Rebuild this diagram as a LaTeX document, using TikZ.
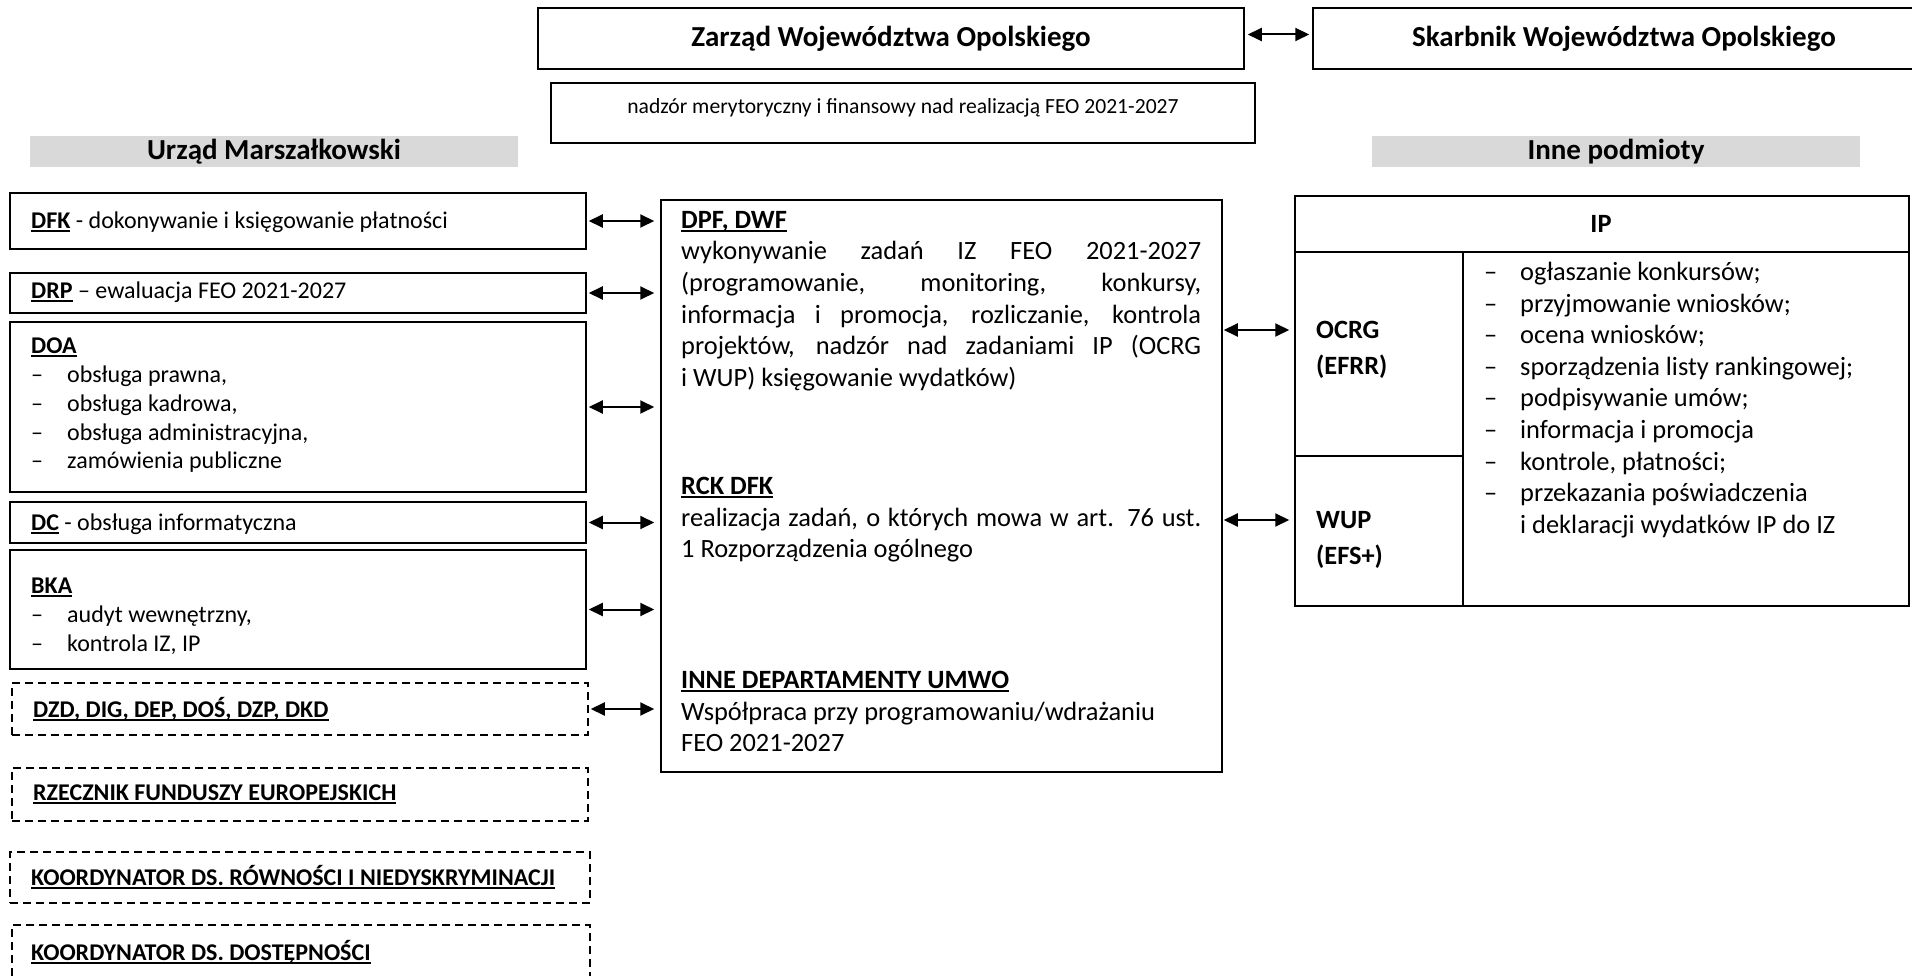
\documentclass[tikz,border=0pt]{standalone}
\usepackage{fontspec}
\setmainfont{Carlito}
\usetikzlibrary{arrows.meta,fit}
\definecolor{barg}{HTML}{D9D9D9}
\newcommand\ulu[1]{\setbox0\hbox{#1}\leavevmode\rlap{\rule[-0.14em]{\wd0}{0.08em}}\box0\relax}
\newcommand\fA{\fontsize{24}{28.7}\selectfont}
\newcommand\fB{\fontsize{26.4}{31.6}\selectfont}
\newcommand\fC{\fontsize{21.6}{26}\selectfont}
\newcommand\fT{\fontsize{29}{35}\selectfont\bfseries}
\newcommand\dsh{\makebox[36pt][l]{–}}
\begin{document}
\begin{tikzpicture}[x=1pt,y=-1pt,
  box/.style={draw,line width=1.5pt,inner sep=0pt},
  dbox/.style={draw,line width=1.5pt,inner sep=0pt,dash pattern=on 8pt off 5pt},
  bar/.style={fill=barg,inner sep=0pt},
  txtA/.style={font=\fA,inner sep=0pt},
  txtB/.style={font=\fB,inner sep=0pt},
  ttl/.style={font=\fT,inner sep=0pt},
  arr/.style={{Triangle[length=14pt,width=13pt]}-{Triangle[length=14pt,width=13pt]},line width=2pt},
  arrL/.style={arr,shorten <=2pt,shorten >=6pt},
  arrR/.style={arr,shorten <=1pt,shorten >=5pt}]
\useasboundingbox (0,0) rectangle (1912,976);
% top
\node[box,fit={(538,8)(1244,69)}] (zarzad) {};
\node[ttl] (zarzadt) at (zarzad.center) {Zarząd Województwa Opolskiego};
\node[box,fit={(1313,8)(1935,69)}] (skarb) {};
\node[ttl] (skarbt) at (skarb.center) {Skarbnik Województwa Opolskiego};
\draw[arr,shorten <=3pt,shorten >=3pt] ([yshift=4pt]zarzad.east) -- ([yshift=4pt]skarb.west);
\node[box,fit={(551,83)(1255,143)}] (nadzor) {};
\node[font=\fC,inner sep=0pt] (nadzort) at (903,108) {nadzór merytoryczny i finansowy nad realizacją FEO 2021-2027};
\node[bar,fit={(30,136)(518,167)}] (urzad) {};
\node[ttl] (urzadt) at (urzad.center) {Urząd Marszałkowski};
\node[bar,fit={(1372,136)(1860,167)}] (innep) {};
\node[ttl] (innept) at (innep.center) {Inne podmioty};
% left column
\node[box,fit={(10,193)(586,249)}] (dfk) {};
\node[txtA,anchor=west] (dfkt) at (31,222) {\ulu{\textbf{DFK}} - dokonywanie i księgowanie płatności};
\node[box,fit={(10,273)(586,313)}] (drp) {};
\node[txtA,anchor=west] (drpt) at (31,292) {\ulu{\textbf{DRP}} – ewaluacja FEO 2021-2027};
\node[box,fit={(10,322)(586,492)}] (doa) {};
\node[txtA,anchor=north west,align=left] (doat) at (31,338) {\ulu{\textbf{DOA}}\\\dsh obsługa prawna,\\\dsh obsługa kadrowa,\\\dsh obsługa administracyjna,\\\dsh zamówienia publiczne};
\node[box,fit={(10,502)(586,543)}] (dc) {};
\node[txtA,anchor=west] (dct) at (31,524) {\ulu{\textbf{DC}} - obsługa informatyczna};
\node[box,fit={(10,550)(586,669)}] (bka) {};
\node[txtA,anchor=north west,align=left] (bkat) at (31,578) {\ulu{\textbf{BKA}}\\\dsh audyt wewnętrzny,\\\dsh kontrola IZ, IP};
\node[dbox,fit={(12,683)(588,735)}] (dzd) {};
\node[txtA,anchor=west] (dzdt) at (33,709) {\ulu{\textbf{DZD, DIG, DEP, DOŚ, DZP, DKD}}};
\node[dbox,fit={(12,768)(588,821)}] (rzecz) {};
\node[txtA,anchor=west] (rzeczt) at (33,794) {\ulu{\textbf{RZECZNIK FUNDUSZY EUROPEJSKICH}}};
\node[dbox,fit={(10,852)(590,903)}] (kr) {};
\node[txtA,anchor=west] (krt) at (31,877) {\ulu{\textbf{KOORDYNATOR DS. RÓWNOŚCI I NIEDYSKRYMINACJI}}};
\node[dbox,fit={(12,925)(590,1000)}] (kd) {};
\node[txtA,anchor=west] (kdt) at (31,952) {\ulu{\textbf{KOORDYNATOR DS. DOSTĘPNOŚCI}}};
% middle
\node[box,fit={(661,200)(1222,772)}] (mid) {};
\node[txtB,anchor=north west,text width=520pt,align=justify,execute at begin node=\sloppy] (dpf) at (681,211) {\ulu{\textbf{DPF, DWF}}\\ wykonywanie zadań IZ FEO 2021-2027\linebreak (programowanie, monitoring, konkursy,\linebreak informacja i promocja, rozliczanie, kontrola\linebreak projektów, nadzór nad zadaniami IP (OCRG\linebreak i WUP) księgowanie wydatków)};
\node[txtB,anchor=north west,text width=520pt,align=justify,execute at begin node=\sloppy] (rck) at (681,477) {\ulu{\textbf{RCK DFK}}\\ realizacja zadań, o których mowa w art. 76 ust.\linebreak 1 Rozporządzenia ogólnego};
\node[txtB,anchor=north west,align=left] (innedep) at (681,671) {\ulu{\textbf{INNE DEPARTAMENTY UMWO}}\\Współpraca przy programowaniu/wdrażaniu\\FEO 2021-2027};
% right table
\node[box,fit={(1295,196)(1909,606)}] (ip) {};
\coordinate (hdr) at (1400,252);
\coordinate (colx) at (1463,400);
\coordinate (rowy) at (1400,456);
\draw[line width=1.5pt] (ip.west |- hdr) -- (ip.east |- hdr);
\draw[line width=1.5pt] (colx |- hdr) -- (colx |- ip.south);
\draw[line width=1.5pt] (ip.west |- rowy) -- (colx |- rowy);
\node[txtB,font=\fB\bfseries] (ipt) at (1601,224) {IP};
\node[txtB,font=\fB\bfseries,anchor=west] (ocrg) at (1316,330) {OCRG};
\node[txtB,font=\fB\bfseries,anchor=west] (efrr) at (1316,367) {(EFRR)};
\node[txtB,font=\fB\bfseries,anchor=west] (wup) at (1316,520) {WUP};
\node[txtB,font=\fB\bfseries,anchor=west] (efs) at (1316,557) {(EFS+)};
\node[txtB,anchor=north west,align=left] (iplist) at (1484,262) {\dsh ogłaszanie konkursów;\\\dsh przyjmowanie wniosków;\\\dsh ocena wniosków;\\\dsh sporządzenia listy rankingowej;\\\dsh podpisywanie umów;\\\dsh informacja i promocja\\\dsh kontrole, płatności;\\\dsh przekazania poświadczenia\\\hspace*{36pt}i deklaracji wydatków IP do IZ};
% connectors
\draw[arrL] (dfk.east) -- (mid.west |- dfk.east);
\draw[arrL] (drp.east) -- (mid.west |- drp.east);
\draw[arrL] (doa.east) -- (mid.west |- doa.east);
\draw[arrL] (dc.east) -- (mid.west |- dc.east);
\draw[arrL] (bka.east) -- (mid.west |- bka.east);
\draw[arrL] (dzd.east) -- (mid.west |- dzd.east);
\draw[arrR] (mid.east |- ocrg.west) -- (ip.west |- ocrg.west);
\draw[arrR] (mid.east |- wup.west) -- (ip.west |- wup.west);
\end{tikzpicture}
\end{document}
